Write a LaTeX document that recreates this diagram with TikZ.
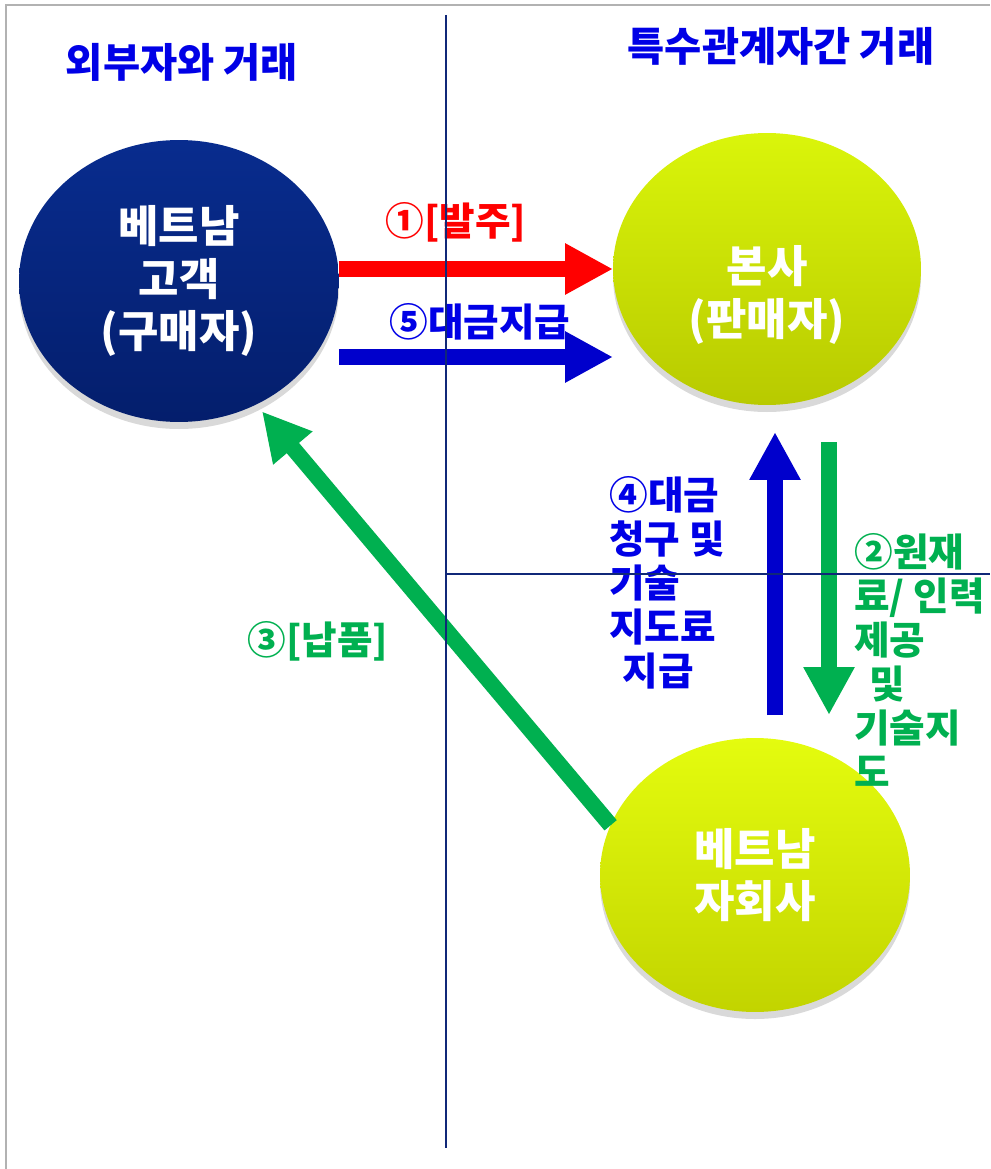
\documentclass[tikz,border=0pt]{standalone}
\usepackage{fontspec}
\setmainfont{Noto Sans CJK KR}
\usepackage{tikz}
\usepackage{xcolor}
\usetikzlibrary{arrows.meta, shapes.geometric, shadows, calc, positioning}

\definecolor{navyline}{RGB}{16,40,120}
\definecolor{flowgreen}{RGB}{0,176,80}
\definecolor{flowblue}{RGB}{0,0,204}
\definecolor{txtblue}{RGB}{0,0,230}
\definecolor{custtop}{RGB}{8,44,142}
\definecolor{custbot}{RGB}{4,30,108}
\definecolor{hqtop}{RGB}{218,245,10}
\definecolor{hqbot}{RGB}{184,202,0}
\definecolor{subtop}{RGB}{228,252,14}
\definecolor{subbot}{RGB}{194,212,0}

\begin{document}
\begin{tikzpicture}[x=0.02cm, y=-0.02cm,
    party/.style={ellipse, inner sep=0pt, outer sep=0pt, drop shadow={opacity=0.3, shadow xshift=0pt, shadow yshift=-4pt}},
    partytxt/.style={text=white, align=center, inner sep=0pt, font=\bfseries\fontsize{25}{30}\selectfont},
    flow/.style={line width=0.32cm, -{Triangle[length=0.96cm, width=0.96cm]}},
    lbl/.style={inner sep=0pt, font=\bfseries\fontsize{22}{25}\selectfont},
    ttl/.style={inner sep=0pt, text=txtblue, font=\bfseries\fontsize{23}{25}\selectfont},
    divider/.style={navyline, line width=0.04cm}]
    \useasboundingbox (0,0) rectangle (990,1169);
    \draw[black!30, line width=0.04cm] (6,1169) -- (6,5) -- (990,5);

    \node[party, minimum width=6.4cm, minimum height=5.64cm, top color=custtop, bottom color=custbot] (cust) at (179,281) {};
    \node[party, minimum width=6.16cm, minimum height=5.44cm, top color=hqtop, bottom color=hqbot] (hq) at (767,269) {};
    \node[party, minimum width=6.2cm, minimum height=5.48cm, top color=subtop, bottom color=subbot] (sub) at (755,875) {};
    \node[partytxt] (custtxt) at (cust) {베트남\\고객\\(구매자)};
    \node[partytxt] (hqtxt) at (767,295) {본사\\(판매자)};
    \node[partytxt] (subtxt) at (sub) {베트남\\자회사};

    \node[ttl] (outer) at (182,62) {외부자와 거래};
    \node[ttl] (related) at (781,46) {특수관계자간 거래};

    \coordinate (pay) at (0,357);
    \coordinate (billlo) at (775,715);
    \coordinate (billhi) at (775,432);
    \coordinate (supphi) at (829,442);
    \coordinate (supplo) at (829,715);

    \draw[flow, red] (cust.east |- hq.west) -- (hq.west);
    \draw[flow, flowblue] (cust.east |- pay) -- (hq.west |- pay);
    \draw[flow, flowblue] (billlo) -- (billhi);
    \draw[flow, flowgreen] (supphi) -- (supplo);
    \draw[flow, flowgreen, shorten >=0.18cm] (sub.161) -- (cust.-58);

    \node[lbl, text=red] (order) at (456,222) {①[발주]};
    \node[lbl, text=txtblue] (paid) at (480,322) {⑤대금지급};
    \node[lbl, text=flowgreen] (deliver) at (318,641) {③[납품]};
    \node[lbl, text=txtblue, align=left, anchor=north west] (bill) at (609,476) {④대금\\청구 및\\기술\\지도료\\\hspace*{0.35em}지급};
    \node[lbl, text=flowgreen, align=left, anchor=north west] (supply) at (854,533) {②원재\\료/ 인력\\제공\\\hspace*{0.4em}및\\기술지\\도};

    \coordinate (vtop) at (446,15);
    \coordinate (vbot) at (446,1148);
    \coordinate (hleft) at (446,574);
    \coordinate (hright) at (990,574);
    \draw[divider] (vtop) -- (vbot);
    \draw[divider] (hleft) -- (hright);
\end{tikzpicture}
\end{document}
